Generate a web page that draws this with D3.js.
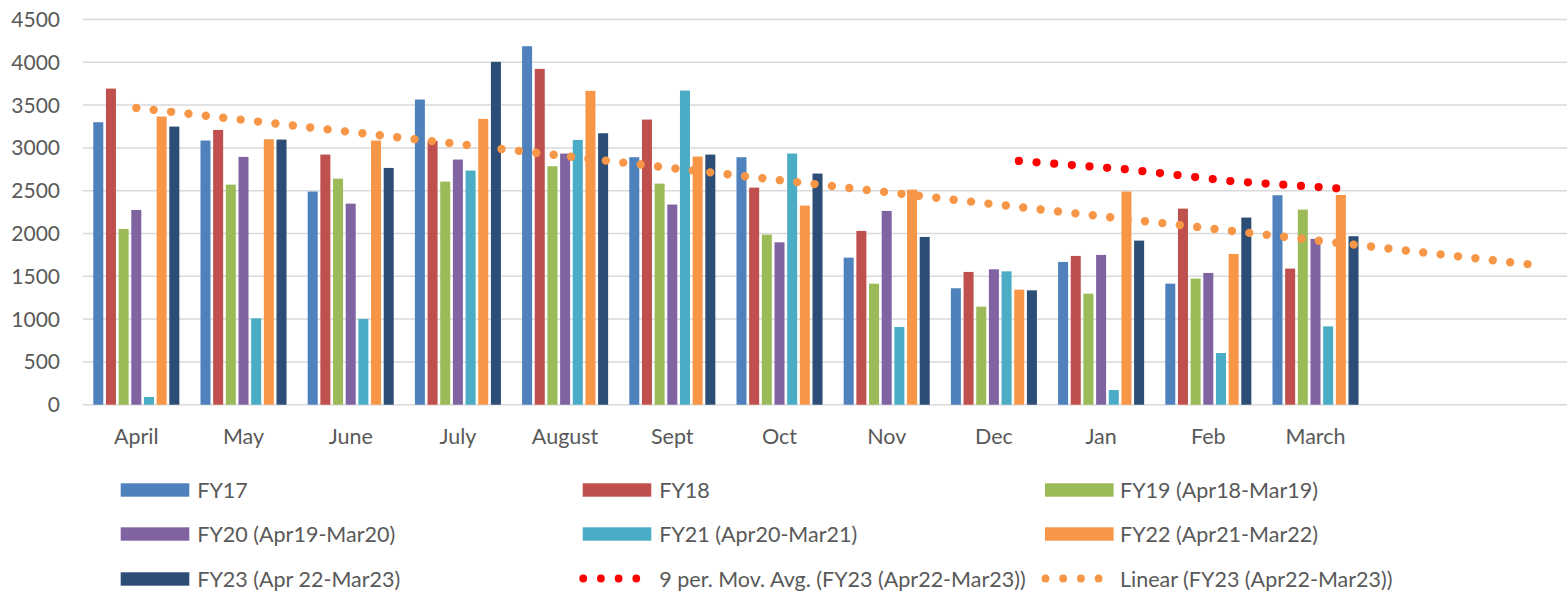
<!DOCTYPE html>
<html>
<head>
<meta charset="utf-8">
<script src="https://cdn.jsdelivr.net/npm/d3@7"></script>
<style>
  html, body { margin: 0; padding: 0; background: #fff; }
  svg { display: block; }
  text { font-family: Lato, "Open Sans", sans-serif; fill: #595959; }
</style>
</head>
<body>
<svg id="chart"></svg>
<script>
const width = 1567;
const height = 592;

// categories (two empty slots at the end hold the trend forecast)
const months = ["April", "May", "June", "July", "August", "Sept", "Oct", "Nov", "Dec", "Jan", "Feb", "March", "", ""];

const seriesNames = [
  "FY17", "FY18", "FY19 (Apr18-Mar19)", "FY20 (Apr19-Mar20)",
  "FY21 (Apr20-Mar21)", "FY22 (Apr21-Mar22)", "FY23 (Apr 22-Mar23)"
];
const seriesColors = ["#4F81BD", "#C0504D", "#9BBB59", "#8064A2", "#4BACC6", "#F79646", "#2C4D75"];

const fy17 = [3300, 3086, 2490, 3565, 4188, 2891, 2891, 1718, 1360, 1668, 1414, 2447];
const fy18 = [3693, 3210, 2922, 3082, 3923, 3331, 2536, 2030, 1551, 1738, 2291, 1590];
const fy19 = [2053, 2571, 2641, 2606, 2786, 2583, 1987, 1414, 1145, 1297, 1473, 2279];
const fy20 = [2275, 2895, 2349, 2864, 2934, 2338, 1897, 2264, 1582, 1750, 1539, 1937];
const fy21 = [90, 1009, 1002, 2735, 3093, 3670, 2934, 908, 1558, 171, 604, 915];
const fy22 = [3366, 3101, 3086, 3339, 3666, 2899, 2326, 2513, 1344, 2490, 1761, 2450];
const fy23 = [3249, 3097, 2766, 4005, 3171, 2922, 2700, 1960, 1336, 1917, 2186, 1968];
const seriesValues = [fy17, fy18, fy19, fy20, fy21, fy22, fy23];

// 9 per. moving average (FY23), from Dec to March
const movAvg = [{ i: 8, v: 2848 }, { i: 9, v: 2750 }, { i: 10, v: 2609 }, { i: 11, v: 2525 }];
// linear trend (FY23), start and end of the forecast
const linearTrend = [{ i: 0, v: 3467 }, { i: 13, v: 1639 }];

const yTicks = [0, 500, 1000, 1500, 2000, 2500, 3000, 3500, 4000, 4500];

const svg = d3.select("#chart").attr("width", width).attr("height", height);

const x = d3.scaleBand()
  .domain(d3.range(months.length))
  .range([82.7, 82.7 + 107.2 * months.length]);

const xInner = d3.scaleBand()
  .domain(d3.range(seriesNames.length))
  .range([0, x.bandwidth()])
  .paddingInner(0.21)
  .paddingOuter(0.835);

const y = d3.scaleLinear().domain([0, 4500]).range([404.7, 19.5]);

// gridlines
svg.append("g")
  .selectAll("line")
  .data(yTicks)
  .join("line")
  .attr("x1", 83)
  .attr("x2", width)
  .attr("y1", d => y(d))
  .attr("y2", d => y(d))
  .attr("stroke", "#d9d9d9")
  .attr("stroke-width", 1.5);

// y labels
svg.append("g")
  .selectAll("text")
  .data(yTicks)
  .join("text")
  .attr("x", 60)
  .attr("y", d => y(d))
  .attr("dy", "0.36em")
  .attr("text-anchor", "end")
  .attr("font-size", 21)
  .text(d => d);

// bars
seriesValues.forEach((vals, s) => {
  svg.append("g")
    .attr("fill", seriesColors[s])
    .selectAll("rect")
    .data(vals)
    .join("rect")
    .attr("x", (d, i) => x(i) + xInner(s))
    .attr("width", xInner.bandwidth())
    .attr("y", d => y(d))
    .attr("height", d => y(0) - y(d));
});

// x labels
svg.append("g")
  .selectAll("text")
  .data(months)
  .join("text")
  .attr("x", (d, i) => x(i) + x.bandwidth() / 2)
  .attr("y", 444.3)
  .attr("text-anchor", "middle")
  .attr("font-size", 21.5)
  .text(d => d);

// linear trend
const trendLine = d3.line()
  .x(d => x(d.i) + x.bandwidth() / 2)
  .y(d => y(d.v));

svg.append("path")
  .datum(linearTrend)
  .attr("d", trendLine)
  .attr("fill", "none")
  .attr("stroke", "#F79646")
  .attr("stroke-width", 8.4)
  .attr("stroke-linecap", "round")
  .attr("stroke-dasharray", "0 17.5");

// moving average (drawn a little right of the category centre, as in the original)
const maOffset = 25;
const maLine = d3.line()
  .x(d => x(d.i) + x.bandwidth() / 2 + maOffset)
  .y(d => y(d.v));

svg.append("path")
  .datum(movAvg)
  .attr("d", maLine)
  .attr("fill", "none")
  .attr("stroke", "#FF0000")
  .attr("stroke-width", 8.2)
  .attr("stroke-linecap", "round")
  .attr("stroke-dasharray", "0 17.7");

// legend
const legendItems = [
  { name: seriesNames[0], color: seriesColors[0], type: "bar" },
  { name: seriesNames[1], color: seriesColors[1], type: "bar" },
  { name: seriesNames[2], color: seriesColors[2], type: "bar" },
  { name: seriesNames[3], color: seriesColors[3], type: "bar" },
  { name: seriesNames[4], color: seriesColors[4], type: "bar" },
  { name: seriesNames[5], color: seriesColors[5], type: "bar" },
  { name: seriesNames[6], color: seriesColors[6], type: "bar" },
  { name: "9 per. Mov. Avg. (FY23 (Apr22-Mar23))", color: "#FF0000", type: "dots" },
  { name: "Linear (FY23 (Apr22-Mar23))", color: "#F79646", type: "dots" }
];

const legendX = [120.7, 582.7, 1045];
const legendY = [497.7, 541.7, 586.7];

const legend = svg.append("g")
  .selectAll("g")
  .data(legendItems)
  .join("g")
  .attr("transform", (d, i) => `translate(${legendX[i % 3]},${legendY[Math.floor(i / 3)]})`);

legend.filter(d => d.type === "bar")
  .append("rect")
  .attr("x", 0)
  .attr("y", -14.4)
  .attr("width", 68.6)
  .attr("height", 13.4)
  .attr("fill", d => d.color);

legend.filter(d => d.type === "dots")
  .append("line")
  .attr("x1", 0.5)
  .attr("x2", 56)
  .attr("y1", -8.2)
  .attr("y2", -8.2)
  .attr("stroke", d => d.color)
  .attr("stroke-width", 7.8)
  .attr("stroke-linecap", "round")
  .attr("stroke-dasharray", "0 17.7");

legend.append("text")
  .attr("x", (d, i) => (i % 3 === 2 ? 75 : 76.6))
  .attr("y", 0)
  .attr("font-size", 21.5)
  .text(d => d.name);
</script>
</body>
</html>
